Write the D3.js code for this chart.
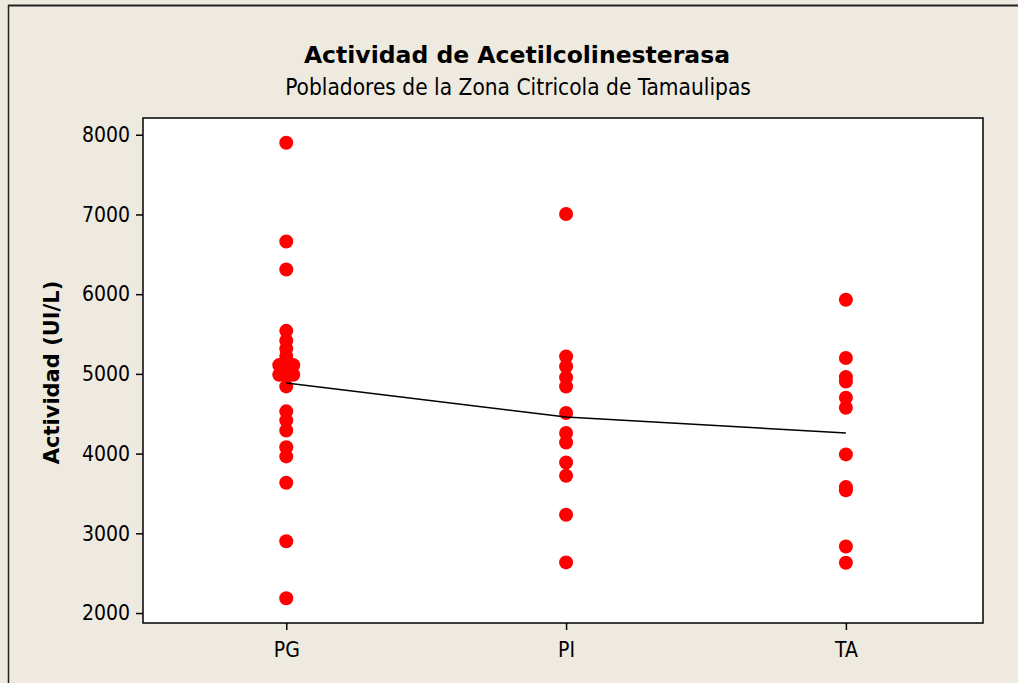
<!DOCTYPE html>
<html>
<head>
<meta charset="utf-8">
<script src="https://cdn.jsdelivr.net/npm/d3@7"></script>
<style>
  html, body { margin: 0; padding: 0; background: #eeeae0; }
  svg { display: block; }
  text { font-family: "DejaVu Sans Condensed", "DejaVu Sans", sans-serif; fill: #000; }
</style>
</head>
<body>
<svg id="chart" width="1018" height="683"></svg>
<script>
// Acetylcholinesterase activity per group (UI/L)
const categories = ["PG", "PI", "TA"];
const valuesPG = [7900, 6660, 6310, 5540, 5415, 5315, 5225, 5110, 5110, 5110,
                  4990, 4990, 4990, 4843, 4530, 4415, 4290, 4080, 3965, 3635, 2900, 2185];
const valuesPI = [7005, 5219, 5093, 4955, 4842, 4509, 4258, 4140, 3889, 3722, 3233, 2635];
const valuesTA = [5930, 5200, 4960, 4905, 4700, 4575, 3990, 3580, 3540, 2835, 2630];
const yTicks = [2000, 3000, 4000, 5000, 6000, 7000, 8000];
const title = "Actividad de Acetilcolinesterasa";
const subtitle = "Pobladores de la Zona Citricola de Tamaulipas";
const yLabel = "Actividad (UI/L)";

const groups = [valuesPG, valuesPI, valuesTA];

const W = 1018, H = 683;
const plot = { left: 143, right: 983, top: 118, bottom: 623 };
const condensed = '"DejaVu Sans Condensed", "DejaVu Sans", sans-serif';
const wide = '"DejaVu Sans", sans-serif';

const svg = d3.select("#chart");

// window frame
svg.append("rect").attr("x", 0).attr("y", 0).attr("width", W).attr("height", H).attr("fill", "#eeeae0");
svg.append("line").attr("x1", 8).attr("x2", W).attr("y1", 5.5).attr("y2", 5.5)
  .attr("stroke", "#222").attr("stroke-width", 2);
svg.append("line").attr("x1", 8.5).attr("x2", 8.5).attr("y1", 5).attr("y2", H)
  .attr("stroke", "#222").attr("stroke-width", 1.5);

const x = d3.scaleLinear().domain([0.488, 3.49]).range([plot.left, plot.right]);
const y = d3.scaleLinear().domain([1875, 8210]).range([plot.bottom, plot.top]);

// plot area
svg.append("rect")
  .attr("x", plot.left).attr("y", plot.top)
  .attr("width", plot.right - plot.left).attr("height", plot.bottom - plot.top)
  .attr("fill", "#fff").attr("stroke", "#000").attr("stroke-width", 1.5);

// y axis
const yAxis = svg.append("g")
  .attr("transform", `translate(${plot.left},0)`)
  .call(d3.axisLeft(y).tickValues(yTicks).tickFormat(d3.format("d")).tickSize(7).tickPadding(6));
yAxis.select(".domain").remove();
yAxis.selectAll("line").attr("stroke", "#000").attr("stroke-width", 1.5);
yAxis.selectAll("text").attr("font-size", 21).style("font-family", condensed).attr("fill", "#000");

// x axis
const xAxis = svg.append("g")
  .attr("transform", `translate(0,${plot.bottom})`)
  .call(d3.axisBottom(x).tickValues(categories.map((c, i) => i + 1))
    .tickFormat((d) => categories[d - 1]).tickSize(7).tickPadding(12));
xAxis.select(".domain").remove();
xAxis.selectAll("line").attr("stroke", "#000").attr("stroke-width", 1.5);
xAxis.selectAll("text").attr("font-size", 21).style("font-family", condensed).attr("fill", "#000");

// individual values; tied values are placed side by side
const tieStep = 7;
const points = [];
groups.forEach((vals, gi) => {
  const counts = d3.rollup(vals, (v) => v.length, (d) => d);
  const seen = new Map();
  vals.forEach((v) => {
    const n = counts.get(v);
    const k = seen.get(v) || 0;
    seen.set(v, k + 1);
    points.push({ g: gi + 1, v, dx: (k - (n - 1) / 2) * tieStep });
  });
});

// group means
const means = groups.map((vals, gi) => ({ g: gi + 1, m: d3.mean(vals) }));
const meanLine = d3.line().x((d) => x(d.g)).y((d) => y(d.m));

svg.append("g").selectAll("circle")
  .data(points)
  .join("circle")
  .attr("cx", (d) => x(d.g) + d.dx)
  .attr("cy", (d) => y(d.v))
  .attr("r", 7)
  .attr("fill", "#ff0000");

// mean connect line over the dots
svg.append("path")
  .datum(means)
  .attr("fill", "none").attr("stroke", "#000").attr("stroke-width", 1.5)
  .attr("d", meanLine);

// titles
svg.append("text").attr("x", 517).attr("y", 63).attr("text-anchor", "middle")
  .style("font-family", wide).attr("font-size", 23.5).attr("font-weight", "bold").text(title);
svg.append("text").attr("x", 518).attr("y", 95).attr("text-anchor", "middle")
  .style("font-family", condensed).attr("font-size", 22.5).text(subtitle);

svg.append("text")
  .attr("transform", `translate(59,${(plot.top + plot.bottom) / 2 + 2}) rotate(-90)`)
  .attr("text-anchor", "middle").style("font-family", wide)
  .attr("font-size", 21).attr("font-weight", "bold")
  .text(yLabel);
</script>
</body>
</html>
